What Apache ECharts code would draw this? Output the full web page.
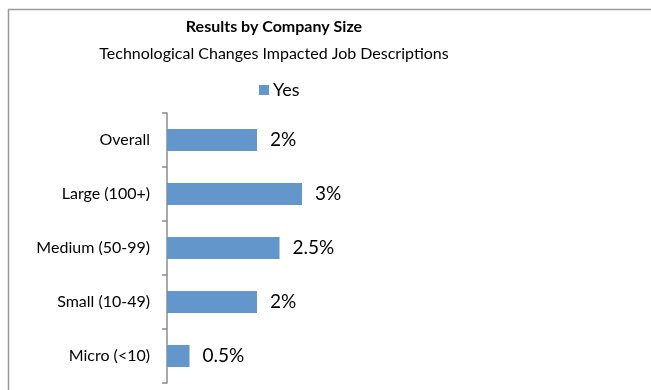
<!DOCTYPE html>
<html>
<head>
<meta charset="utf-8">
<style>
  html, body { margin: 0; padding: 0; background: #fff; }
  #chart { width: 651px; height: 390px; }
</style>
<script src="https://cdn.jsdelivr.net/npm/echarts@6/dist/echarts.min.js"></script>
</head>
<body>
<div id="chart"></div>
<script>
// Share of respondents answering "Yes", by company size (percent)
const categories = ['Overall', 'Large (100+)', 'Medium (50-99)', 'Small (10-49)', 'Micro (<10)'];
const yesValues = [2, 3, 2.5, 2, 0.5];
const valueLabels = ['2%', '3%', '2.5%', '2%', '0.5%'];

const FONT = 'Lato, "Liberation Sans", sans-serif';

const chart = echarts.init(document.getElementById('chart'), null, { renderer: 'canvas' });

chart.setOption({
  animation: false,
  backgroundColor: '#fff',
  graphic: [{
    type: 'rect',
    shape: { x: 8.5, y: 9.5, width: 900, height: 500 },
    style: { fill: 'none', stroke: '#9a9a9a', lineWidth: 1.5 },
    silent: true
  }],
  title: {
    text: 'Results by Company Size',
    subtext: 'Technological Changes Impacted Job Descriptions',
    left: 269,
    textAlign: 'center',
    top: 14,
    itemGap: 11,
    textStyle: { fontFamily: FONT, fontSize: 16, fontWeight: 'bold', color: '#000' },
    subtextStyle: { fontFamily: FONT, fontSize: 16, color: '#000' }
  },
  legend: {
    data: ['Yes'],
    left: 254,
    top: 76,
    itemWidth: 10,
    itemHeight: 10,
    itemGap: 4,
    icon: 'rect',
    textStyle: { fontFamily: FONT, fontSize: 18, color: '#000', padding: [0, 0, 0, -1] }
  },
  grid: { left: 167, top: 113, width: 450, height: 270, containLabel: false },
  xAxis: {
    type: 'value',
    min: 0,
    max: 10,
    show: false
  },
  yAxis: {
    type: 'category',
    data: categories,
    inverse: true,
    axisLine: { show: true, lineStyle: { color: '#8c8c8c', width: 1.5 } },
    axisTick: { show: true, length: 5, lineStyle: { color: '#8c8c8c', width: 1.5 } },
    axisLabel: { margin: 17, fontFamily: FONT, fontSize: 16, color: '#000' },
    splitLine: { show: false }
  },
  series: [{
    name: 'Yes',
    type: 'bar',
    data: yesValues,
    barWidth: 22,
    itemStyle: { color: '#6396ca' },
    label: {
      show: true,
      position: 'right',
      distance: 13,
      fontFamily: FONT,
      fontSize: 19,
      color: '#000',
      formatter: (p) => valueLabels[p.dataIndex]
    }
  }]
});
</script>
</body>
</html>
